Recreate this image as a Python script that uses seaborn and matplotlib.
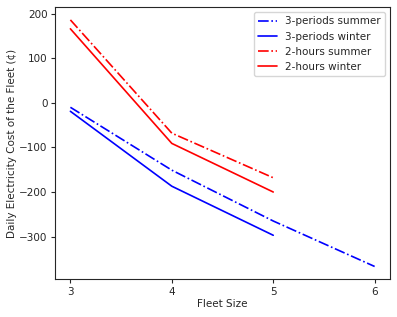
import numpy as np
import pandas as pd
import matplotlib
matplotlib.use('Agg')
import matplotlib.pyplot as plt
import seaborn as sns

sns.set_style('ticks')
plt.rcParams['font.family'] = ['DejaVu Sans']

# Data
fleet_long = [3, 4, 5, 6]
fleet_short = [3, 4, 5]
periods_summer = [-10, -151, -265, -367]
periods_winter = [-19, -187, -297]
hours_summer = [186, -68, -168]
hours_winter = [166, -91, -200]

series = [
    ('3-periods summer', fleet_long, periods_summer, 'blue', '-.'),
    ('3-periods winter', fleet_short, periods_winter, 'blue', '-'),
    ('2-hours summer', fleet_short, hours_summer, 'red', '-.'),
    ('2-hours winter', fleet_short, hours_winter, 'red', '-'),
]

fig, ax = plt.subplots(figsize=(3.97, 3.17), dpi=100)
for name, xs, ys, color, ls in series:
    df = pd.DataFrame({'Fleet Size': xs, 'cost': ys})
    sns.lineplot(data=df, x='Fleet Size', y='cost', ax=ax, color=color,
                 linestyle=ls, linewidth=1.2, label=name)

ax.set_xticks([3, 4, 5, 6])
ax.set_yticks([-300, -200, -100, 0, 100, 200])
ax.set_ylim(-395, 215)
ax.set_xlim(2.85, 6.15)
ax.set_xlabel('Fleet Size', fontsize=7.5, labelpad=1.5)
ax.set_ylabel('Daily Electricity Cost of the Fleet (¢)', fontsize=7.5, labelpad=1.5)
ax.tick_params(labelsize=7.5, length=3, pad=2.5)
ax.legend(loc='upper right', fontsize=7.5, frameon=True, handlelength=1.8)
fig.subplots_adjust(left=0.139, right=0.982, top=0.978, bottom=0.12)
fig.savefig('out.png', dpi=100)
